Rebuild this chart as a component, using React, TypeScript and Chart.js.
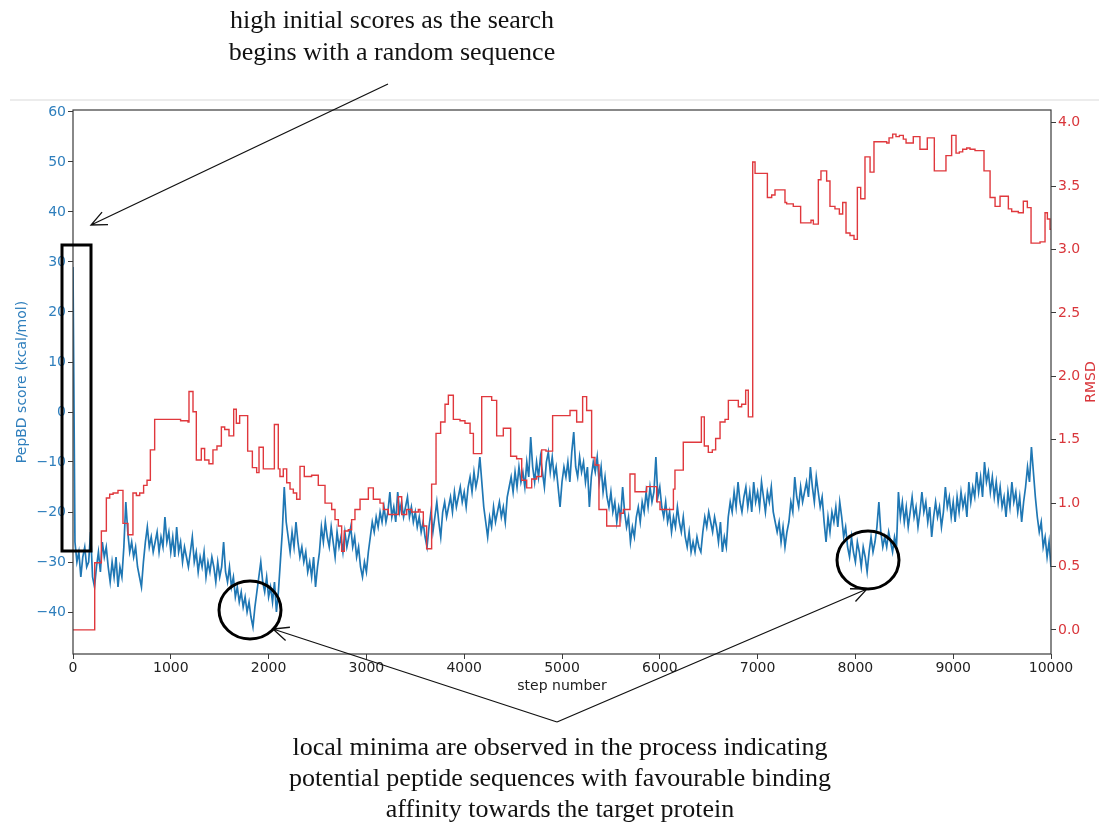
import React, { useEffect, useRef } from 'react';
import { Chart, registerables } from 'chart.js';

Chart.register(...registerables);

// ---------- data ----------
const STEP_INTERVAL = 20; // PepBD score read every 20 steps (0..10000)

const SCORES = [
  // 0 - 980
  29, -26, -30, -28, -33, -29, -27, -31, -30, -24, -33, -35, -31, -28, -32, -26, -29, -27, -31, -34, -30, -33, -29, -35, -31,
  -33, -27, -18, -24, -28, -26, -29, -27, -31, -33, -35, -30, -26, -23, -27, -25, -28, -26, -24, -28, -25, -27, -21, -26, -24,
  // 1000 - 1980
  -28, -25, -29, -23, -28, -26, -30, -27, -29, -31, -28, -25, -30, -28, -32, -29, -31, -28, -33, -30, -32, -29, -31, -34, -30,
  -33, -31, -26, -32, -34, -31, -35, -33, -37, -35, -38, -36, -39, -37, -40, -38, -41, -43, -39, -36, -33, -30, -34, -36, -33,
  // 2000 - 2980
  -37, -35, -38, -34, -40, -36, -30, -24, -15, -22, -25, -28, -24, -27, -22, -26, -29, -27, -30, -28, -32, -30, -33, -29, -35,
  -31, -28, -23, -26, -22, -25, -27, -23, -26, -29, -24, -27, -25, -28, -24, -27, -25, -23, -27, -25, -29, -27, -31, -33, -30,
  // 3000 - 3980
  -32, -28, -25, -22, -24, -21, -23, -20, -22, -19, -22, -20, -16, -21, -19, -22, -16, -20, -18, -21, -19, -17, -21, -19, -22,
  -20, -23, -21, -24, -22, -25, -27, -23, -20, -24, -21, -18, -22, -25, -20, -18, -21, -19, -17, -20, -16, -19, -17, -15, -18,
  // 4000 - 4980
  -16, -19, -15, -13, -16, -12, -15, -13, -9, -14, -19, -22, -25, -21, -23, -19, -22, -20, -18, -21, -19, -22, -17, -15, -13,
  -16, -12, -15, -11, -14, -12, -15, -10, -13, -5, -11, -14, -10, -13, -9, -12, -15, -10, -8, -12, -9, -13, -11, -15, -19,
  // 5000 - 5980
  -14, -11, -13, -10, -14, -8, -4, -11, -13, -9, -12, -10, -14, -11, -19, -13, -10, -12, -9, -14, -11, -16, -13, -17, -19,
  -16, -20, -18, -22, -19, -21, -15, -20, -23, -21, -26, -23, -25, -21, -19, -22, -18, -20, -16, -19, -15, -18, -16, -9, -17,
  // 6000 - 6980
  -15, -19, -21, -18, -22, -20, -24, -21, -23, -19, -22, -24, -21, -25, -27, -24, -28, -26, -28, -25, -27, -28, -24, -21, -23,
  -20, -22, -24, -21, -23, -26, -22, -28, -25, -27, -21, -18, -20, -16, -19, -14, -18, -20, -17, -15, -19, -16, -20, -14, -18,
  // 7000 - 7980
  -16, -19, -14, -17, -20, -16, -18, -15, -20, -22, -24, -22, -26, -23, -27, -24, -22, -18, -20, -13, -17, -19, -15, -18, -16,
  -14, -17, -11, -15, -18, -13, -16, -19, -17, -22, -26, -21, -24, -20, -22, -19, -23, -18, -21, -25, -23, -27, -29, -25, -28,
  // 8000 - 8980
  -30, -26, -28, -31, -27, -29, -32, -28, -25, -28, -26, -23, -18, -24, -27, -25, -27, -24, -26, -28, -25, -27, -16, -21, -18,
  -22, -19, -23, -20, -17, -21, -19, -23, -20, -16, -20, -18, -22, -19, -25, -21, -18, -21, -19, -23, -20, -15, -19, -17, -21,
  // 9000 - 10000
  -18, -22, -17, -20, -16, -19, -17, -21, -14, -18, -15, -17, -12, -16, -13, -17, -10, -14, -12, -16, -13, -17, -14, -18, -15,
  -19, -17, -21, -16, -19, -14, -18, -16, -20, -17, -22, -18, -15, -11, -14, -7, -12, -17, -21, -24, -22, -27, -25, -29, -26,
  -31,
];

// RMSD is a step series: each value holds from its step until the next step
const RMSD_STEPS = [
  0, 222, 290, 341, 375, 410, 460, 511, 562, 613,
  648, 682, 722, 757, 791, 835, 1000, 1100, 1176, 1186,
  1227, 1261, 1312, 1346, 1390, 1431, 1472, 1517, 1551, 1595,
  1643, 1670, 1704, 1786, 1834, 1878, 1902, 1946, 2059, 2099,
  2116, 2150, 2185, 2219, 2253, 2287, 2321, 2365, 2440, 2508,
  2577, 2645, 2679, 2713, 2747, 2774, 2815, 2849, 2883, 2935,
  3020, 3071, 3139, 3173, 3224, 3326, 3361, 3412, 3463, 3531,
  3548, 3582, 3616, 3667, 3712, 3759, 3804, 3838, 3889, 3957,
  4008, 4060, 4094, 4179, 4281, 4332, 4400, 4475, 4536, 4588,
  4639, 4690, 4741, 4792, 4836, 4904, 5082, 5150, 5211, 5252,
  5303, 5337, 5378, 5457, 5593, 5627, 5695, 5746, 5866, 5968,
  6002, 6139, 6155, 6240, 6425, 6455, 6496, 6537, 6571, 6616,
  6667, 6701, 6803, 6837, 6878, 6905, 6950, 6974, 7100, 7144,
  7178, 7280, 7297, 7365, 7440, 7546, 7570, 7621, 7648, 7706,
  7740, 7791, 7836, 7870, 7904, 7945, 7986, 8020, 8054, 8098,
  8150, 8190, 8320, 8344, 8381, 8415, 8450, 8490, 8518, 8592,
  8660, 8735, 8807, 8926, 8984, 9029, 9063, 9097, 9138, 9172,
  9223, 9315, 9377, 9428, 9479, 9564, 9598, 9666, 9717, 9758,
  9796, 9888, 9939, 9963, 9990, 10000,
];

const RMSD_VALUES = [
  0.0, 0.53, 0.78, 1.04, 1.07, 1.08, 1.1, 0.84, 0.75, 1.08,
  1.06, 1.08, 1.14, 1.18, 1.42, 1.66, 1.66, 1.65, 1.64, 1.88,
  1.72, 1.34, 1.43, 1.34, 1.31, 1.42, 1.45, 1.6, 1.58, 1.53,
  1.74, 1.63, 1.69, 1.41, 1.28, 1.24, 1.44, 1.27, 1.62, 1.27,
  1.21, 1.27, 1.16, 1.11, 1.08, 1.03, 1.29, 1.21, 1.22, 1.14,
  1.0, 0.95, 0.87, 0.82, 0.62, 0.78, 0.79, 0.87, 0.95, 1.03,
  1.12, 1.03, 1.0, 0.95, 0.91, 1.05, 0.91, 0.95, 0.93, 0.95,
  0.93, 0.82, 0.64, 1.15, 1.55, 1.64, 1.78, 1.85, 1.66, 1.65,
  1.63, 1.55, 1.39, 1.84, 1.81, 1.53, 1.59, 1.37, 1.35, 1.18,
  1.12, 1.19, 1.21, 1.42, 1.41, 1.69, 1.73, 1.64, 1.84, 1.73,
  1.36, 1.3, 0.95, 0.82, 0.92, 0.95, 1.23, 1.09, 1.13, 1.01,
  0.95, 1.11, 1.26, 1.48, 1.68, 1.45, 1.4, 1.42, 1.51, 1.64,
  1.66, 1.81, 1.76, 1.78, 1.89, 1.68, 3.69, 3.6, 3.41, 3.43,
  3.47, 3.37, 3.36, 3.34, 3.21, 3.23, 3.2, 3.55, 3.62, 3.54,
  3.34, 3.32, 3.28, 3.37, 3.13, 3.11, 3.08, 3.49, 3.4, 3.73,
  3.61, 3.85, 3.84, 3.88, 3.91, 3.89, 3.9, 3.87, 3.84, 3.89,
  3.79, 3.88, 3.62, 3.74, 3.9, 3.76, 3.77, 3.79, 3.8, 3.79,
  3.78, 3.62, 3.41, 3.34, 3.42, 3.32, 3.3, 3.29, 3.38, 3.33,
  3.05, 3.06, 3.29, 3.24, 3.16, 3.16,
];

const X_TICKS = [0, 1000, 2000, 3000, 4000, 5000, 6000, 7000, 8000, 9000, 10000];
const SCORE_TICKS = [-40, -30, -20, -10, 0, 10, 20, 30, 40, 50, 60];
const RMSD_TICKS = [0, 0.5, 1.0, 1.5, 2.0, 2.5, 3.0, 3.5, 4.0];

const TOP_NOTE = ['high initial scores as the search', 'begins with a random sequence'];
const BOTTOM_NOTE = [
  'local minima are observed in the process indicating',
  'potential peptide sequences with favourable binding',
  'affinity towards the target protein',
];

// ---------- styles ----------
const BLUE = '#1f77b4';
const BLUE_TEXT = '#2f7fbd';
const RED = '#e0383d';
const RED_TEXT = '#d9363b';
const AXIS = '#3a3a3a';
const SANS = "'DejaVu Sans', sans-serif";
const SERIF = "'Liberation Serif', 'Times New Roman', serif";

function drawArrow(ctx: CanvasRenderingContext2D, x1: number, y1: number, x2: number, y2: number) {
  const ang = Math.atan2(y2 - y1, x2 - x1);
  const head = 17;
  const spread = 0.42;
  ctx.beginPath();
  ctx.moveTo(x1, y1);
  ctx.lineTo(x2, y2);
  ctx.moveTo(x2 - head * Math.cos(ang - spread), y2 - head * Math.sin(ang - spread));
  ctx.lineTo(x2, y2);
  ctx.lineTo(x2 - head * Math.cos(ang + spread), y2 - head * Math.sin(ang + spread));
  ctx.stroke();
}

const annotations = {
  id: 'annotations',
  afterDraw(chart: any) {
    const ctx: CanvasRenderingContext2D = chart.ctx;
    const { left, right, top, bottom } = chart.chartArea;
    ctx.save();

    // faint page separator
    ctx.strokeStyle = '#e6e6e6';
    ctx.lineWidth = 1.5;
    ctx.beginPath();
    ctx.moveTo(10, 100);
    ctx.lineTo(1099, 100);
    ctx.stroke();

    // spines
    ctx.strokeStyle = AXIS;
    ctx.lineWidth = 1.2;
    ctx.strokeRect(left, top, right - left, bottom - top);

    // right axis title (reads bottom-to-top)
    ctx.save();
    ctx.translate(1091, (top + bottom) / 2);
    ctx.rotate(-Math.PI / 2);
    ctx.fillStyle = RED_TEXT;
    ctx.font = `14px ${SANS}`;
    ctx.textAlign = 'center';
    ctx.textBaseline = 'middle';
    ctx.fillText('RMSD', 0, 0);
    ctx.restore();

    // notes
    ctx.fillStyle = '#111';
    ctx.font = `26px ${SERIF}`;
    ctx.textAlign = 'center';
    ctx.textBaseline = 'middle';
    ctx.fillText(TOP_NOTE[0], 392, 21);
    ctx.fillText(TOP_NOTE[1], 392, 53);
    ctx.fillText(BOTTOM_NOTE[0], 560, 748);
    ctx.fillText(BOTTOM_NOTE[1], 560, 779);
    ctx.fillText(BOTTOM_NOTE[2], 560, 810);

    // arrows
    ctx.strokeStyle = '#111';
    ctx.lineWidth = 1.3;
    drawArrow(ctx, 388, 84, 91, 225);
    drawArrow(ctx, 557, 722, 273, 629);
    drawArrow(ctx, 557, 722, 867, 589);

    // highlight box and circles
    ctx.lineWidth = 3;
    ctx.strokeStyle = '#000';
    ctx.strokeRect(62, 245, 29, 306);
    ctx.beginPath();
    ctx.ellipse(250, 610, 31, 29, 0, 0, Math.PI * 2);
    ctx.stroke();
    ctx.beginPath();
    ctx.ellipse(868, 560, 31, 29, 0, 0, Math.PI * 2);
    ctx.stroke();

    ctx.restore();
  },
};

const minus = (v: number) => (v < 0 ? '\u2212' + Math.abs(v) : String(v));

export default function App() {
  const ref = useRef<HTMLCanvasElement>(null);

  useEffect(() => {
    document.body.style.margin = '0';
    const canvas = ref.current;
    if (!canvas) return;

    const scoreData = SCORES.map((v, i) => ({ x: i * STEP_INTERVAL, y: v }));
    const rmsdData = RMSD_STEPS.map((s, i) => ({ x: s, y: RMSD_VALUES[i] }));

    const tickGrid = { drawOnChartArea: false, drawTicks: true, tickLength: 5, color: AXIS, lineWidth: 1 };

    const chart = new Chart(canvas, {
      type: 'line',
      data: {
        datasets: [
          {
            label: 'RMSD',
            data: rmsdData,
            yAxisID: 'y1',
            borderColor: RED,
            borderWidth: 1.4,
            stepped: 'before',
            pointRadius: 0,
            fill: false,
            order: 0,
          },
          {
            label: 'PepBD score',
            data: scoreData,
            yAxisID: 'y',
            borderColor: BLUE,
            borderWidth: 1.7,
            pointRadius: 0,
            tension: 0,
            fill: false,
            order: 1,
          },
        ],
      },
      options: {
        animation: false,
        responsive: false,
        devicePixelRatio: 1,
        layout: { padding: { top: 110, left: 0, right: 0, bottom: 127 } },
        plugins: { legend: { display: false }, tooltip: { enabled: false } },
        scales: {
          x: {
            type: 'linear',
            min: 0,
            max: 10000,
            afterBuildTicks: (s: any) => {
              s.ticks = X_TICKS.map((v) => ({ value: v }));
            },
            afterFit: (s: any) => {
              s.height = 43;
            },
            grid: tickGrid,
            border: { display: false },
            ticks: {
              color: '#222',
              font: { family: SANS, size: 14 },
              padding: 1,
              maxRotation: 0,
              autoSkip: false,
              callback: (v: any) => String(v),
            },
            title: {
              display: true,
              text: 'step number',
              color: '#222',
              font: { family: SANS, size: 14 },
              padding: { top: 0, bottom: 2.6 },
            },
          },
          y: {
            type: 'linear',
            position: 'left',
            min: -48.4,
            max: 60.4,
            afterBuildTicks: (s: any) => {
              s.ticks = SCORE_TICKS.map((v) => ({ value: v }));
            },
            afterFit: (s: any) => {
              s.width = 73;
            },
            grid: tickGrid,
            border: { display: false },
            ticks: {
              color: BLUE_TEXT,
              font: { family: SANS, size: 14 },
              padding: 2,
              autoSkip: false,
              callback: (v: any) => minus(Number(v)),
            },
            title: {
              display: true,
              text: 'PepBD score (kcal/mol)',
              color: BLUE_TEXT,
              font: { family: SANS, size: 14 },
              padding: { top: 13.6, bottom: 0 },
            },
          },
          y1: {
            type: 'linear',
            position: 'right',
            min: -0.19,
            max: 4.1,
            afterBuildTicks: (s: any) => {
              s.ticks = RMSD_TICKS.map((v) => ({ value: v }));
            },
            afterFit: (s: any) => {
              s.width = 48;
            },
            grid: tickGrid,
            border: { display: false },
            ticks: {
              color: RED_TEXT,
              font: { family: SANS, size: 14 },
              padding: 2,
              autoSkip: false,
              callback: (v: any) => Number(v).toFixed(1),
            },
          },
        },
      },
      plugins: [annotations],
    } as any);

    return () => chart.destroy();
  }, []);

  return (
    <div style={{ width: 1099, height: 824, position: 'relative', background: '#fff' }}>
      <canvas ref={ref} width={1099} height={824} style={{ display: 'block', width: 1099, height: 824 }} />
    </div>
  );
}
